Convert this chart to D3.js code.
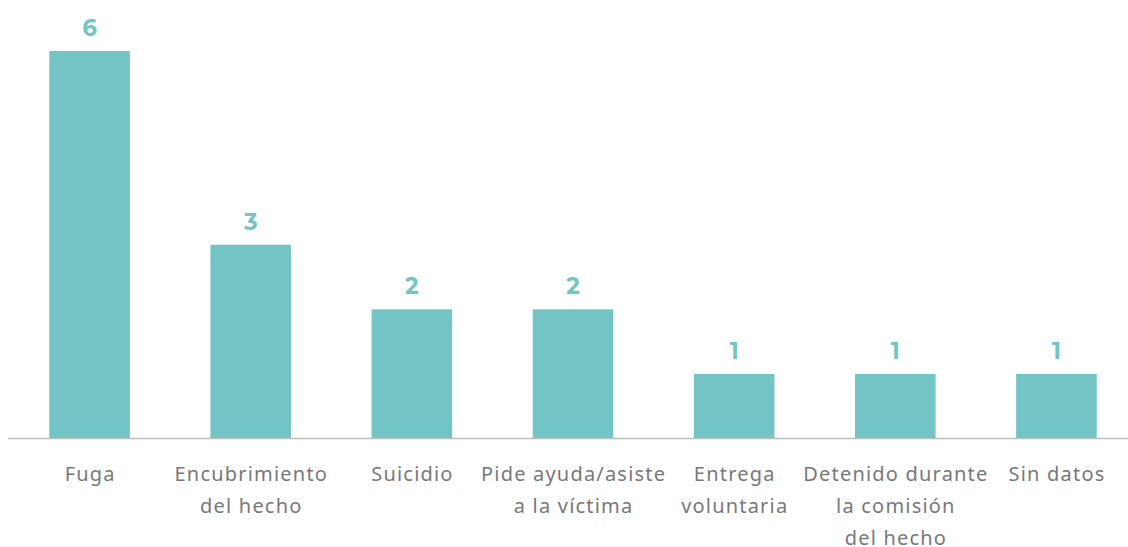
<!DOCTYPE html>
<html>
<head>
<meta charset="utf-8">
<script src="https://cdn.jsdelivr.net/npm/d3@7"></script>
<style>
  body { margin: 0; background: #fff; }
  svg { display: block; }
</style>
</head>
<body>
<svg width="1128" height="547"></svg>
<script>
var categories = [
  ["Fuga"],
  ["Encubrimiento", "del hecho"],
  ["Suicidio"],
  ["Pide ayuda/asiste", "a la víctima"],
  ["Entrega", "voluntaria"],
  ["Detenido durante", "la comisión", "del hecho"],
  ["Sin datos"]
];
var values = [6, 3, 2, 2, 1, 1, 1];

var svg = d3.select("svg"),
    baseline = 438.5,
    plotTop = 51;

var x = d3.scaleBand()
    .domain(d3.range(categories.length))
    .range([9, 1137])
    .paddingInner(0.5)
    .paddingOuter(0.25);

var y = d3.scaleLinear()
    .domain([0, 6])
    .range([baseline, plotTop]);

var teal = "#72c5c4";

svg.append("g")
  .selectAll("rect")
  .data(values)
  .enter().append("rect")
    .attr("x", function(d, i) { return x(i); })
    .attr("y", function(d) { return y(d); })
    .attr("width", x.bandwidth())
    .attr("height", function(d) { return baseline - y(d); })
    .attr("fill", teal);

svg.append("line")
    .attr("x1", 8).attr("x2", 1128)
    .attr("y1", baseline).attr("y2", baseline)
    .attr("stroke", "#bdbdbd")
    .attr("stroke-width", 1.5);

svg.append("g")
  .selectAll("text")
  .data(values)
  .enter().append("text")
    .attr("x", function(d, i) { return x(i) + x.bandwidth() / 2; })
    .attr("y", function(d) { return y(d) - 15; })
    .attr("text-anchor", "middle")
    .attr("font-family", "Montserrat, 'Noto Sans', sans-serif")
    .attr("font-weight", "bold")
    .attr("font-size", 23)
    .attr("fill", teal)
    .text(function(d) { return d; });

var labels = svg.append("g")
  .selectAll("text")
  .data(categories)
  .enter().append("text")
    .attr("x", function(d, i) { return x(i) + x.bandwidth() / 2 + 0.6; })
    .attr("y", 481)
    .attr("text-anchor", "middle")
    .attr("font-family", "'Noto Sans', sans-serif")
    .attr("font-size", 20)
    .attr("letter-spacing", 1.2)
    .attr("fill", "#77787b");

labels.selectAll("tspan")
  .data(function(d) { return d; })
  .enter().append("tspan")
    .attr("x", function() { return d3.select(this.parentNode).attr("x"); })
    .attr("dy", function(d, i) { return i ? 32 : 0; })
    .text(function(d) { return d; });
</script>
</body>
</html>
